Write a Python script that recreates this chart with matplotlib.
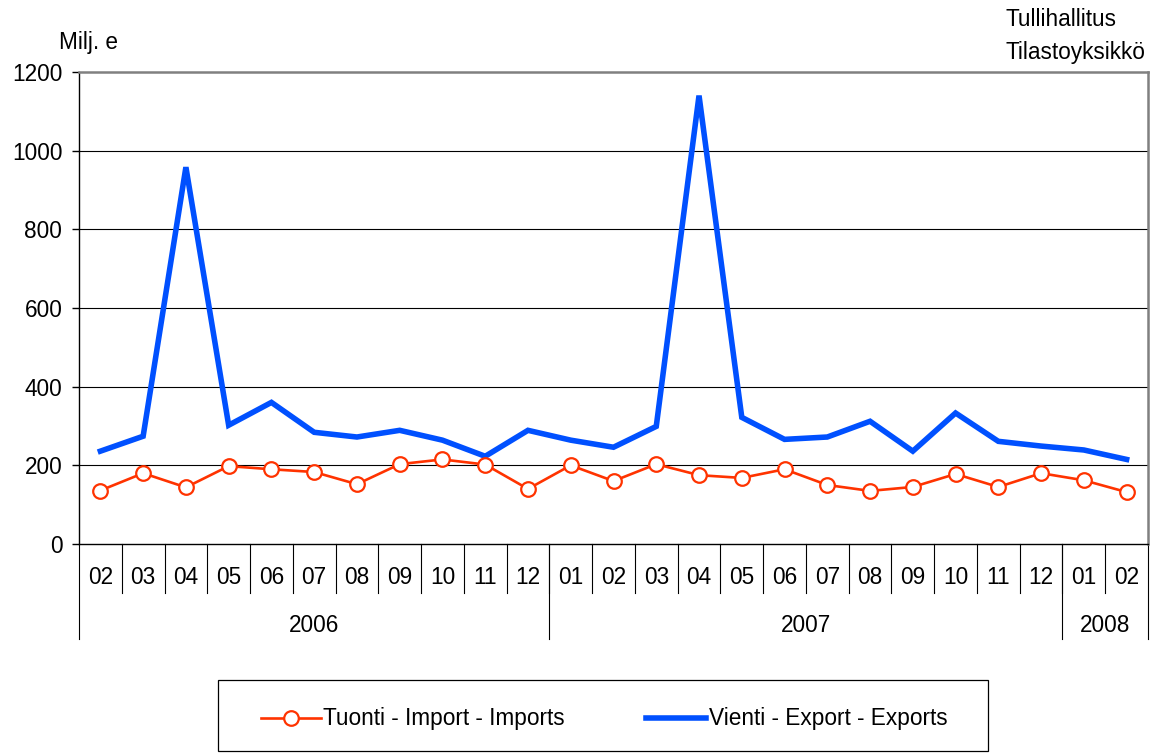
import matplotlib
matplotlib.use("Agg")
import matplotlib.pyplot as plt
from matplotlib.transforms import blended_transform_factory
from matplotlib.lines import Line2D
from matplotlib.patches import Rectangle

plt.rcParams['font.family'] = ['Liberation Sans', 'DejaVu Sans']

months = ["02", "03", "04", "05", "06", "07", "08", "09", "10", "11", "12",
          "01", "02", "03", "04", "05", "06", "07", "08", "09", "10", "11", "12",
          "01", "02"]
years = ["2006", "2007", "2008"]
year_counts = [11, 12, 2]

imports = [136, 180, 144, 198, 190, 183, 152, 203, 215, 202, 140,
           200, 160, 203, 175, 168, 190, 150, 135, 145, 178, 145, 180,
           162, 132]
exports = [236, 274, 958, 302, 360, 284, 272, 289, 264, 223, 289,
           264, 246, 299, 1140, 322, 266, 272, 312, 236, 333, 261, 249,
           239, 215]

FS = 16.3
W, H = 1154, 753
fig = plt.figure(figsize=(W / 100, H / 100), dpi=100)
ax_l, ax_r, ax_t, ax_b = 79, 1148, 72, 544
ax = fig.add_axes([ax_l / W, (H - ax_b) / H, (ax_r - ax_l) / W, (ax_b - ax_t) / H])

x = list(range(len(months)))
imp_color = '#FF3300'
exp_color = '#0050FF'

ax.plot(x, exports, color=exp_color, lw=4.0, solid_joinstyle='miter', zorder=3)
ax.plot(x, imports, color=imp_color, lw=1.9, marker='o', ms=10.5,
        mfc='white', mec=imp_color, mew=1.6, zorder=4)

ax.set_xlim(-0.5, len(months) - 0.5)
ax.set_ylim(0, 1200)
ax.set_yticks(range(0, 1201, 200))
ax.tick_params(axis='y', labelsize=FS, length=5, width=1, direction='out', pad=7)
ax.set_xticks([])
for y in range(200, 1200, 200):
    ax.axhline(y, color='black', lw=0.8, zorder=1)

for s in ['top', 'right']:
    ax.spines[s].set_color('#808080')
    ax.spines[s].set_linewidth(1.8)
for s in ['left', 'bottom']:
    ax.spines[s].set_color('black')
    ax.spines[s].set_linewidth(1.0)

axh = ax_b - ax_t
trans = blended_transform_factory(ax.transData, ax.transAxes)
month_sep = -49 / axh
year_sep = -95 / axh
month_lab = -34 / axh
year_lab = -81 / axh

for i, m in enumerate(months):
    ax.text(i, month_lab, m, transform=trans, ha='center', va='center', fontsize=FS)
for i in range(1, len(months)):
    ax.plot([i - 0.5, i - 0.5], [0, month_sep], transform=trans, color='black',
            lw=0.8, clip_on=False)

start = 0
bounds = [-0.5]
for yr, cnt in zip(years, year_counts):
    ax.text(start + (cnt - 1) / 2, year_lab, yr, transform=trans, ha='center',
            va='center', fontsize=FS)
    start += cnt
    bounds.append(start - 0.5)
for b in bounds:
    ax.plot([b, b], [0, year_sep], transform=trans, color='black', lw=0.8, clip_on=False)

fig.text(59 / W, 1 - 43 / H, "Milj. e", fontsize=FS, ha='left', va='center')
fig.text(1006 / W, 1 - 19 / H, "Tullihallitus", fontsize=FS, ha='left', va='center')
fig.text(1006 / W, 1 - 52 / H, "Tilastoyksikkö", fontsize=FS, ha='left', va='center')

# legend box
fig.patches.append(Rectangle((218 / W, 2 / H), 770 / W, 71 / H, transform=fig.transFigure,
                             fill=False, edgecolor='black', lw=0.9))
handles = [Line2D([], [], color=imp_color, lw=1.9, marker='o', ms=10.5, mfc='white',
                  mec=imp_color, mew=1.6),
           Line2D([], [], color=exp_color, lw=4.0)]
labels = ["Tuonti - Import - Imports", "Vienti - Export - Exports"]
fig.legend(handles, labels, loc='center', bbox_to_anchor=(604 / W, 34 / H), ncol=2,
           frameon=False, fontsize=FS, handlelength=2.65, handletextpad=0.1,
           columnspacing=3.6, borderpad=0)

fig.savefig("out.png", dpi=100)
